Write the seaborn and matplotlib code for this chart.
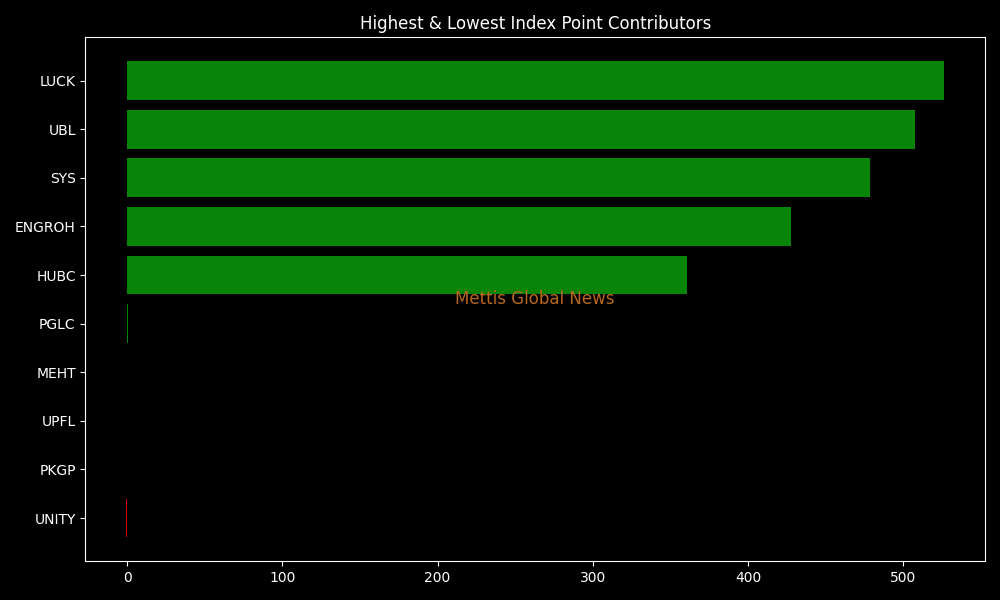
import matplotlib
matplotlib.use("Agg")
import matplotlib.pyplot as plt
import seaborn as sns

# dados
simbolos = ["LUCK", "UBL", "SYS", "ENGROH", "HUBC", "PGLC", "MEHT", "UPFL", "PKGP", "UNITY"]
pontos = [526.4, 507.7, 478.7, 427.8, 360.8, 0.8, 0.0, 0.0, 0.0, -0.6]

plt.style.use("dark_background")
cores = ["#088408" if v >= 0 else "#d00000" for v in pontos]

fig, ax = plt.subplots(figsize=(10, 6), dpi=100)
sns.barplot(x=pontos, y=simbolos, hue=simbolos, palette=cores, legend=False,
            orient="h", width=0.8, saturation=1, linewidth=0, ax=ax)

n = len(simbolos)
ax.set_ylim(n - 1 + 0.89, -0.89)
ax.set_xlim(-26.8, 552.7)
ax.set_xlabel("")
ax.set_ylabel("")
ax.set_title("Highest & Lowest Index Point Contributors")
ax.text(0.5, 0.5, "Mettis Global News", transform=ax.transAxes, ha="center", va="center",
        fontsize=12, color="#b8681e")

plt.tight_layout()
plt.savefig("out.png")
